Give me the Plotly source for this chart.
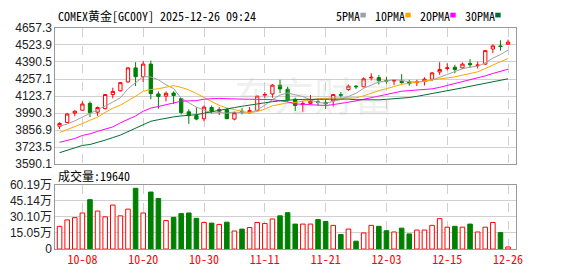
import plotly.graph_objects as go

# ---------------- data ----------------
dates = ["10-03", "10-06", "10-07", "10-08", "10-09", "10-10", "10-13", "10-14", "10-15", "10-16",
         "10-17", "10-20", "10-21", "10-22", "10-23", "10-24", "10-27", "10-28", "10-29", "10-30",
         "10-31", "11-03", "11-04", "11-05", "11-06", "11-07", "11-10", "11-11", "11-12", "11-13",
         "11-14", "11-17", "11-18", "11-19", "11-20", "11-21", "11-24", "11-25", "11-26", "11-27",
         "11-28", "12-01", "12-02", "12-03", "12-04", "12-05", "12-08", "12-09", "12-10", "12-11",
         "12-12", "12-15", "12-16", "12-17", "12-18", "12-19", "12-22", "12-23", "12-24", "12-26"]

opens = [3887.4, 3916.9, 3990.6, 4012.7, 4066.8, 3998.0, 4025.0, 4135.6, 4165.0, 4233.8,
         4344.4, 4275.6, 4373.9, 4140.5, 4123.3, 4147.8, 4103.6, 4000.4, 3970.9, 3946.4,
         4034.8, 4005.3, 4017.6, 3943.9, 4005.3, 3993.0, 4010.2, 4130.6, 4140.5, 4209.3,
         4177.3, 4098.7, 4056.9, 4066.8, 4079.0, 4074.0, 4086.4, 4135.6, 4174.9, 4201.9,
         4197.0, 4265.8, 4268.0, 4246.0, 4241.2, 4238.7, 4231.4, 4228.9, 4238.7, 4255.9,
         4312.5, 4339.5, 4349.3, 4344.4, 4378.8, 4361.6, 4373.9, 4491.8, 4516.4, 4528.7]

highs = [3919.3, 3993.0, 4012.7, 4081.5, 4081.5, 4042.2, 4140.5, 4189.6, 4233.8, 4349.3,
         4388.6, 4398.5, 4400.9, 4160.1, 4160.1, 4160.0, 4111.0, 4020.0, 4037.0, 4049.6,
         4049.6, 4037.3, 4029.9, 4000.4, 4029.9, 4037.3, 4128.2, 4155.2, 4216.6, 4251.1,
         4197.0, 4111.0, 4086.4, 4133.0, 4106.0, 4098.7, 4140.5, 4155.2, 4214.0, 4209.3,
         4270.7, 4302.6, 4287.9, 4275.6, 4246.0, 4295.3, 4251.1, 4251.1, 4270.7, 4312.5,
         4388.6, 4381.3, 4369.0, 4386.1, 4413.1, 4393.5, 4484.4, 4528.7, 4560.6, 4565.5]

lows = [3865.3, 3916.0, 3966.0, 4010.0, 3958.7, 3968.5, 4020.0, 4106.0, 4160.0, 4228.9,
        4201.9, 4233.8, 4098.7, 4025.0, 4081.5, 4061.8, 3980.8, 3907.0, 3934.0, 3926.7,
        3988.0, 3975.8, 3946.0, 3934.0, 3980.8, 3985.7, 4005.3, 4106.0, 4111.0, 4147.8,
        4074.0, 4007.8, 4000.4, 4061.8, 4049.6, 4025.0, 4042.0, 4111.0, 4165.0, 4179.8,
        4192.0, 4246.0, 4214.0, 4221.5, 4209.3, 4221.5, 4204.4, 4201.9, 4206.8, 4241.2,
        4290.3, 4324.7, 4302.6, 4337.0, 4344.4, 4339.5, 4369.0, 4459.9, 4479.5, 4528.7]

closes = [3909.5, 3983.2, 4005.3, 4061.8, 3993.0, 4034.8, 4135.6, 4160.1, 4228.9, 4344.4,
          4275.6, 4373.9, 4142.9, 4120.8, 4145.4, 4128.2, 3995.5, 3970.9, 3943.9, 4037.3,
          4005.3, 4017.6, 3946.4, 3993.0, 4000.4, 4010.2, 4123.3, 4135.6, 4209.3, 4179.8,
          4093.8, 4049.6, 4066.8, 4084.0, 4074.0, 4064.0, 4135.6, 4130.6, 4201.9, 4197.0,
          4258.4, 4270.7, 4243.7, 4241.0, 4246.0, 4228.9, 4221.5, 4233.8, 4255.9, 4305.1,
          4332.1, 4344.4, 4332.1, 4373.9, 4369.0, 4366.5, 4479.5, 4516.4, 4511.5, 4545.9]

volumes = [213000, 273000, 294000, 338000, 463000, 356000, 302000, 412000, 311000, 374000,
           569000, 338000, 534000, 474000, 267000, 297000, 332000, 338000, 288000, 249000,
           243000, 231000, 252000, 169000, 187000, 202000, 249000, 240000, 282000, 311000,
           341000, 234000, 234000, 234000, 276000, 258000, 222000, 136000, 187000, 74000,
           151000, 222000, 213000, 172000, 160000, 196000, 142000, 178000, 178000, 222000,
           285000, 205000, 213000, 205000, 234000, 160000, 205000, 249000, 154000, 19640]

# moving-average values before each window is complete
ma5_head = [3888.0, 3905.0, 3930.0, 3958.0]
ma10_head = [3838.0, 3860.0, 3885.0, 3909.0, 3935.0, 3959.0, 3996.0, 4028.0, 4053.0]
ma20_head = [3762.0, 3774.4, 3791.6, 3816.0, 3828.0, 3848.0, 3865.0, 3882.5, 3914.4, 3939.0,
             3968.5, 4005.3, 4030.0, 4042.0, 4057.0, 4074.0, 4084.0, 4086.4, 4088.0]
ma30_head = [3681.0, 3700.7, 3722.8, 3737.5, 3744.9, 3759.6, 3779.3, 3799.0, 3818.6, 3845.6,
             3872.7, 3902.1, 3926.7, 3939.0, 3951.3, 3961.0, 3968.5, 3973.4, 3978.3, 3990.0,
             4002.0, 4014.0, 4024.0, 4034.0, 4044.0, 4054.0, 4064.0, 4073.0, 4080.0]

price_ticks = [3590.1, 3723.5, 3856.9, 3990.3, 4123.7, 4257.1, 4390.5, 4523.9, 4657.3]
vol_ticks = [0, 150475, 300950, 451425, 601900]
vol_tick_text = ["0", "15.05万", "30.10万", "45.14万", "60.19万"]
tick_dates = ["10-08", "10-20", "10-30", "11-11", "11-21", "12-03", "12-15", "12-26"]

title_text = "COMEX黄金[GC00Y] 2025-12-26 09:24"
ma_names = ["5PMA", "10PMA", "20PMA", "30PMA"]

# ---------------- derived ----------------
x = list(range(len(dates)))
tickvals = [dates.index(d) for d in tick_dates]


def moving_average(n, head):
    out = list(head)
    for i in range(len(head), len(closes)):
        out.append(sum(closes[i - n + 1:i + 1]) / n)
    return out


ma_series = [moving_average(5, ma5_head), moving_average(10, ma10_head),
             moving_average(20, ma20_head), moving_average(30, ma30_head)]
ma_colors = ["#A0A0A0", "#FFA500", "#FF00FF", "#006E32"]

RED = "#FF0000"
GREEN = "#008000"
MONO = "Noto Sans Mono CJK SC, Liberation Mono, Noto Sans CJK SC, monospace"
SANS = "Liberation Sans, Arial, Noto Sans CJK SC, sans-serif"

W, H = 578, 276
left_px, right_px = 56, 522.3
p_top, p_bot = 22, 165.7
v_top, v_bot = 187.3, 255

fig = go.Figure()

for name, vals, col in zip(ma_names, ma_series, ma_colors):
    fig.add_trace(go.Scatter(x=x, y=vals, mode="lines", name=name,
                             line=dict(color=col, width=1), hoverinfo="skip",
                             xaxis="x", yaxis="y"))

fig.add_trace(go.Candlestick(
    x=x, open=opens, high=highs, low=lows, close=closes,
    increasing=dict(line=dict(color=RED, width=1), fillcolor="white"),
    decreasing=dict(line=dict(color=GREEN, width=1), fillcolor=GREEN),
    whiskerwidth=0, xaxis="x", yaxis="y", name="K"))

up = [c >= o for o, c in zip(opens, closes)]
fig.add_trace(go.Bar(
    x=x, y=volumes, width=0.6,
    marker=dict(color=["white" if u else GREEN for u in up],
                line=dict(color=[RED if u else GREEN for u in up], width=1)),
    xaxis="x2", yaxis="y2", name="vol"))

xr = [-(x[0] * 0 + 0.56), len(dates) - 1 + 1.04]
grid = "#D0D0D0"
border = "#999999"

common_x = dict(domain=[left_px / W, right_px / W], range=xr, tickvals=tickvals,
                showgrid=True, gridcolor=grid, griddash="dash", gridwidth=1,
                showline=True, mirror=True, linecolor=border, linewidth=1,
                zeroline=False, ticks="", fixedrange=True)

fig.update_layout(
    width=W, height=H, margin=dict(l=0, r=0, t=0, b=0),
    paper_bgcolor="white", plot_bgcolor="white", showlegend=False,
    boxgap=0.38,
    xaxis=dict(**common_x, anchor="y", showticklabels=False,
               rangeslider=dict(visible=False)),
    xaxis2=dict(**common_x, anchor="y2", ticktext=tick_dates, showticklabels=True,
                tickfont=dict(family=MONO, size=12, color=RED)),
    yaxis=dict(domain=[1 - p_bot / H, 1 - p_top / H], range=[price_ticks[0], price_ticks[-1]],
               tickvals=price_ticks, ticktext=[f"{v:.1f}" for v in price_ticks],
               showgrid=True, gridcolor=grid, gridwidth=1, zeroline=False,
               showline=True, mirror=True, linecolor=border, ticks="",
               tickfont=dict(family=SANS, size=12, color="#222"), fixedrange=True),
    yaxis2=dict(domain=[1 - v_bot / H, 1 - v_top / H], range=[0, vol_ticks[-1]],
                tickvals=vol_ticks, ticktext=vol_tick_text,
                showgrid=True, gridcolor=grid, gridwidth=1, zeroline=False,
                showline=True, mirror=True, linecolor=border, ticks="",
                tickfont=dict(family=SANS, size=12, color="#222"), fixedrange=True),
)

annotations = [
    dict(text=title_text, x=57 / W, y=1 - 9 / H, xref="paper", yref="paper",
         xanchor="left", yanchor="middle", showarrow=False,
         font=dict(family=MONO, size=12, color="#000")),
    dict(text=f"成交量:{volumes[-1]}", x=57 / W, y=1 - 177.5 / H, xref="paper", yref="paper",
         xanchor="left", yanchor="middle", showarrow=False,
         font=dict(family=MONO, size=12, color="#000")),
    dict(text="东方财富", x=318 / W, y=1 - 92 / H, xref="paper", yref="paper",
         xanchor="center", yanchor="middle", showarrow=False,
         font=dict(family="Noto Sans CJK SC", size=40, color="rgba(190,190,190,0.22)")),
]

shapes = []
lx = 338.3
for name, col in zip(ma_names, ma_colors):
    annotations.append(dict(text=name, x=lx / W, y=1 - 8.5 / H, xref="paper", yref="paper",
                            xanchor="left", yanchor="middle", showarrow=False,
                            font=dict(family=MONO, size=12, color="#000")))
    sx = lx + 6 * len(name) + 2.5
    shapes.append(dict(type="rect", xref="paper", yref="paper",
                       x0=sx / W, x1=(sx + 5.5) / W, y0=1 - 11 / H, y1=1 - 6 / H,
                       fillcolor=col, line=dict(width=0)))
    lx = sx + 13

fig.update_layout(annotations=annotations, shapes=shapes)

fig.write_html("out.html", config={"displayModeBar": False})
